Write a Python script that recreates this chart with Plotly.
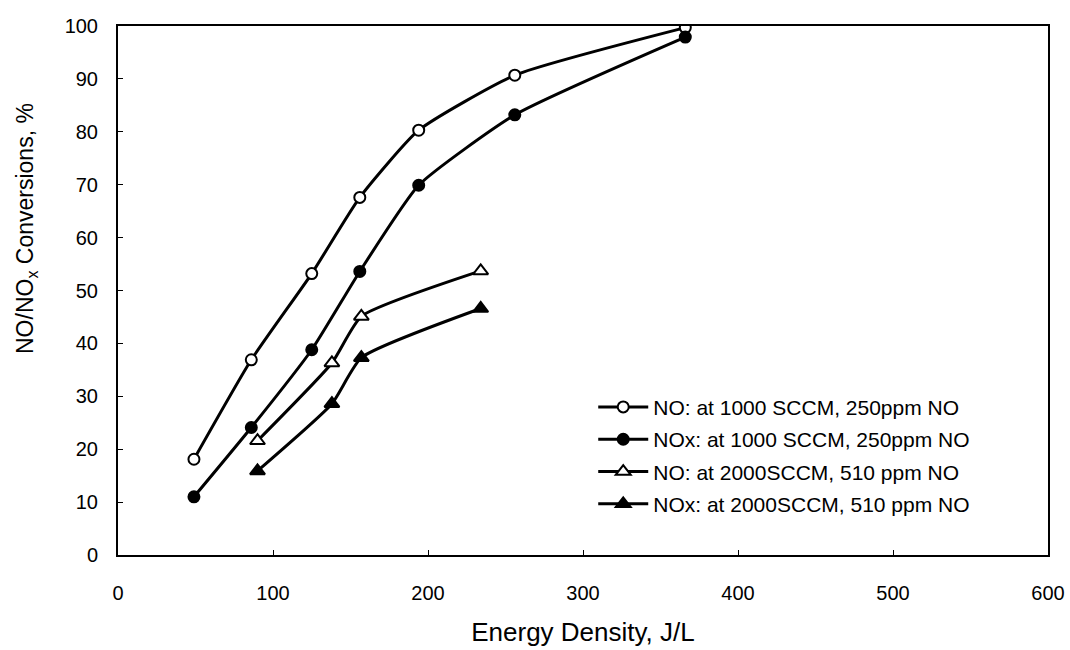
import plotly.graph_objects as go

# Data
x_1000 = [49, 86, 125, 156, 194, 256, 366]
no_1000 = [18.1, 36.9, 53.2, 67.6, 80.3, 90.7, 99.7]
nox_1000 = [11.0, 24.1, 38.8, 53.6, 69.9, 83.2, 97.9]

x_2000 = [90, 138, 157, 234]
no_2000 = [21.6, 36.3, 45.1, 53.7]
nox_2000 = [15.9, 28.6, 37.3, 46.6]

names = [
    "NO: at 1000 SCCM, 250ppm NO",
    "NOx: at 1000 SCCM, 250ppm NO",
    "NO: at 2000SCCM, 510 ppm NO",
    "NOx: at 2000SCCM, 510 ppm NO",
]

FONT = "Arial, 'Liberation Sans', sans-serif"

fig = go.Figure()

series = [
    (x_1000, no_1000, names[0], "circle", "white", 11),
    (x_1000, nox_1000, names[1], "circle", "black", 11),
    (x_2000, no_2000, names[2], "triangle-up", "white", 13),
    (x_2000, nox_2000, names[3], "triangle-up", "black", 13),
]

for i, (xs, ys, nm, sym, fill, sz) in enumerate(series):
    fig.add_trace(go.Scatter(
        x=xs, y=ys, name=nm, mode="lines+markers", legendgroup=f"g{i}",
        line=dict(color="black", width=3, shape="spline", smoothing=0.5),
        marker=dict(symbol=sym, size=sz, color=fill,
                    line=dict(color="black", width=2)),
    ))

fig.update_layout(
    width=1070, height=650,
    margin=dict(l=118, r=22, t=26, b=95),
    paper_bgcolor="white", plot_bgcolor="white",
    font=dict(family=FONT, color="black", size=20),
    showlegend=True,
    legend=dict(
        x=0.511, y=0.318, xanchor="left", yanchor="top",
        bgcolor="rgba(0,0,0,0)", borderwidth=0,
        font=dict(family=FONT, size=21, color="black"),
        itemwidth=50, tracegroupgap=2,
    ),
    annotations=[dict(
        text="NO/NO<sub>x</sub> Conversions, %",
        xref="paper", yref="paper", x=-0.099, y=0.618,
        xanchor="center", yanchor="middle", textangle=-90,
        showarrow=False, font=dict(family=FONT, size=23, color="black"),
    )],
)

fig.update_xaxes(
    range=[0, 600], dtick=100, tick0=0,
    showline=True, linecolor="black", linewidth=2, mirror=True,
    ticks="inside", ticklen=5, tickcolor="black", tickwidth=1,
    showgrid=False, zeroline=False,
    tickfont=dict(family=FONT, size=20),
    ticklabelstandoff=19,
    title=dict(text="Energy Density, J/L", font=dict(family=FONT, size=26), standoff=20),
    automargin=False,
)
fig.update_yaxes(
    range=[0, 100], dtick=10, tick0=0,
    showline=True, linecolor="black", linewidth=2, mirror=True,
    ticks="inside", ticklen=5, tickcolor="black", tickwidth=1,
    showgrid=False, zeroline=False,
    tickfont=dict(family=FONT, size=20),
    ticklabelstandoff=14,
    automargin=False,
)

fig.write_html("out.html")
